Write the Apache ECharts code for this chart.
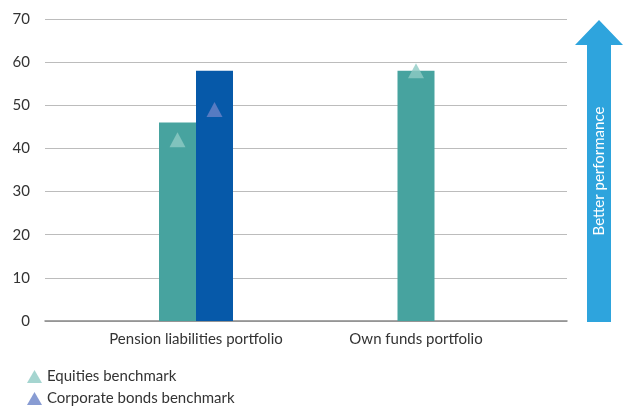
<!DOCTYPE html>
<html>
<head>
<meta charset="utf-8">
<script src="https://cdn.jsdelivr.net/npm/echarts@6/dist/echarts.min.js"></script>
<style>
  html, body { margin: 0; padding: 0; background: #fff; }
  #chart { width: 631px; height: 407px; }
</style>
</head>
<body>
<div id="chart"></div>
<script>
// data
const categories = ['Pension liabilities portfolio', 'Own funds portfolio']
const pensionEquities = [46, '-']
const pensionBonds = [58, '-']
const ownFunds = ['-', 58]
const equitiesBenchmark = [42, 58]
const bondsBenchmark = [49, '-']
const yTicks = [0, 10, 20, 30, 40, 50, 60, 70]

const FONT = 'Lato'
const chart = echarts.init(document.getElementById('chart'))

const legendBase = {
  left: 22,
  itemWidth: 15,
  itemHeight: 13,
  icon: 'triangle',
  textStyle: { fontSize: 15, color: '#333', fontFamily: FONT }
}

const option = {
  animation: false,
  textStyle: { fontFamily: FONT },
  grid: [
    { left: 45, right: 64, top: 19, bottom: 86 },
    { left: 86, right: 105, top: 19, bottom: 86 }
  ],
  legend: [
    Object.assign({}, legendBase, { top: 364, data: ['Equities benchmark'] }),
    Object.assign({}, legendBase, { top: 386, data: ['Corporate bonds benchmark'] })
  ],
  xAxis: [
    { gridIndex: 0, type: 'value', min: 0, max: 1, show: true,
      axisLine: { show: true, onZero: true, lineStyle: { color: '#888', width: 1.5 } },
      axisTick: { show: false }, axisLabel: { show: false }, splitLine: { show: false } },
    { gridIndex: 1, type: 'category', data: categories,
      axisLine: { show: false }, axisTick: { show: false },
      axisLabel: { interval: 0, margin: 11, fontSize: 15, color: '#333', fontFamily: FONT } },
    { gridIndex: 1, type: 'category', data: categories, show: false }
  ],
  yAxis: [
    { gridIndex: 0, type: 'value', min: yTicks[0], max: yTicks[yTicks.length - 1], interval: 10,
      axisLine: { show: false }, axisTick: { show: false },
      axisLabel: { margin: 15, fontSize: 15, color: '#333', fontFamily: FONT },
      splitLine: { lineStyle: { color: '#bcbcbc', width: 1 } } },
    { gridIndex: 1, type: 'value', min: 0, max: 70, show: false }
  ],
  series: [
    { type: 'bar', name: 'Equities', xAxisIndex: 1, yAxisIndex: 1, data: pensionEquities,
      barWidth: 37, barGap: '0%', itemStyle: { color: '#47a39f' } },
    { type: 'bar', name: 'Bonds', xAxisIndex: 1, yAxisIndex: 1, data: pensionBonds,
      barWidth: 37, barGap: '0%', itemStyle: { color: '#0659a9' } },
    { type: 'bar', name: 'Own', xAxisIndex: 2, yAxisIndex: 1, data: ownFunds,
      barWidth: 37, itemStyle: { color: '#47a39f' } },
    { type: 'scatter', name: 'Equities benchmark', xAxisIndex: 1, yAxisIndex: 1,
      symbol: 'triangle', symbolSize: [16, 15], z: 5,
      itemStyle: { color: '#8ecac4' },
      data: equitiesBenchmark.map((v, i) => ({ value: v, symbolOffset: [i === 0 ? -18.5 : 0, 0] })) },
    { type: 'scatter', name: 'Corporate bonds benchmark', xAxisIndex: 1, yAxisIndex: 1,
      symbol: 'triangle', symbolSize: [16, 15], z: 5,
      itemStyle: { color: '#6a83c8' },
      data: bondsBenchmark.map(v => ({ value: v, symbolOffset: [18.5, 0] })) }
  ],
  graphic: [
    { type: 'polygon', z: 10,
      shape: { points: [[599, 20], [623, 45], [611, 45], [611, 322], [587, 322], [587, 45], [575, 45]] },
      style: { fill: '#2ea4dd' } },
    { type: 'text', z: 11, x: 599, y: 171, rotation: Math.PI / 2,
      style: { text: 'Better performance', fill: '#fff', fontSize: 15, fontFamily: FONT,
        align: 'center', verticalAlign: 'middle' } }
  ]
}
chart.setOption(option)
</script>
</body>
</html>
